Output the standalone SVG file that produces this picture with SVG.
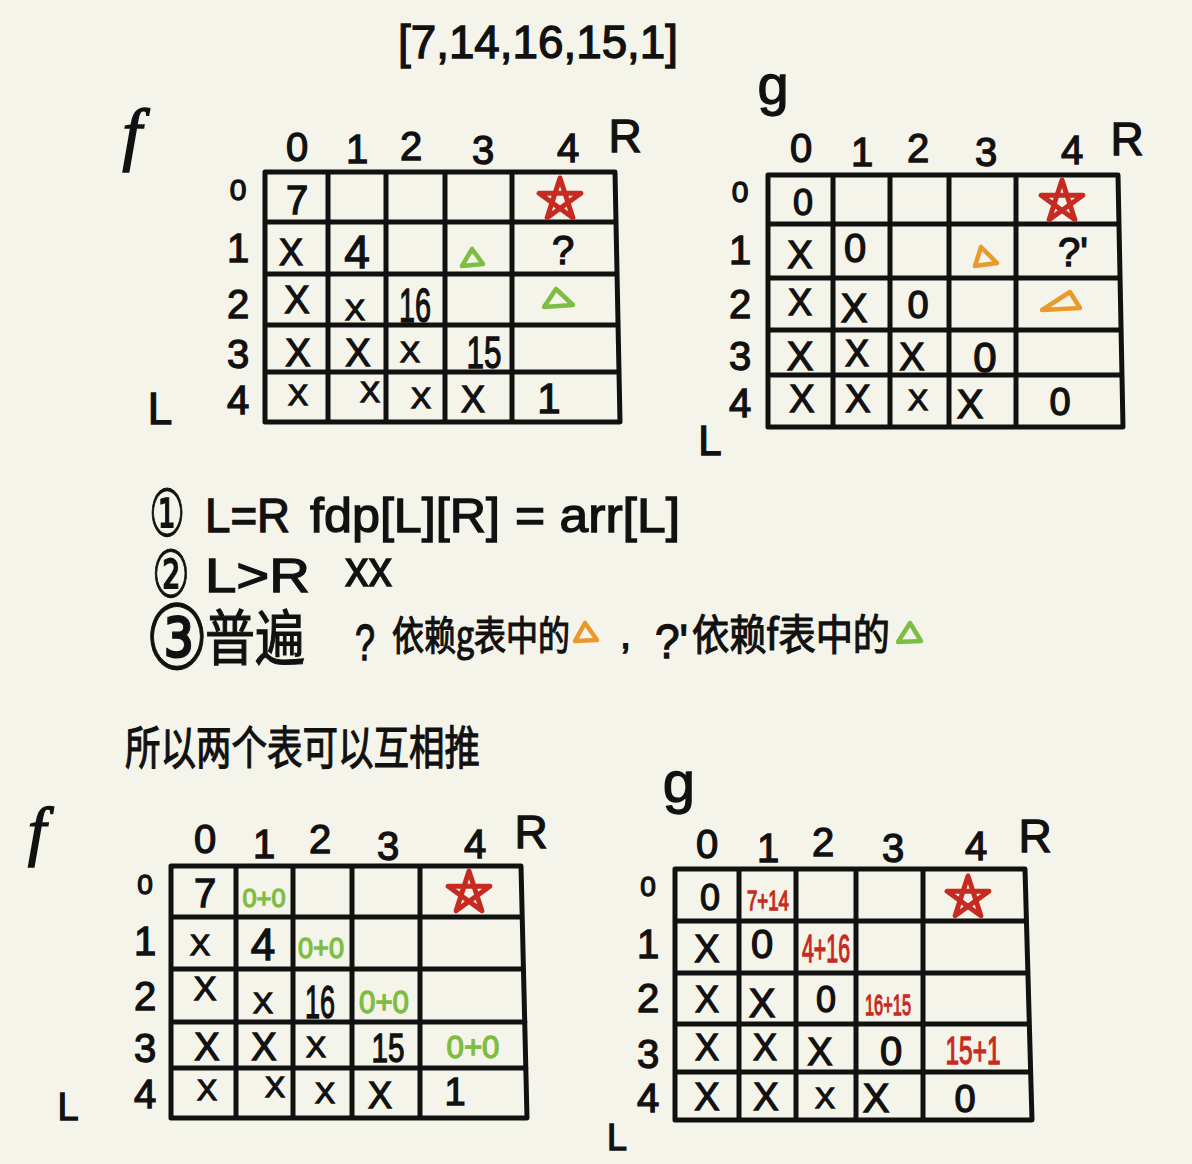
<svg xmlns="http://www.w3.org/2000/svg" xmlns:xlink="http://www.w3.org/1999/xlink" width="1192" height="1164" viewBox="0 0 1192 1164">
<style>
.k{font-family:"Liberation Sans",Arial,sans-serif;fill:#111;stroke:#111;stroke-width:1.3px;text-anchor:middle}
.s{text-anchor:start}
.c{font-family:"Noto Sans CJK SC","Noto Sans",sans-serif;fill:#111;stroke:#111;stroke-width:1.2px}
.cd{font-family:"DejaVu Sans","Noto Sans CJK SC",sans-serif;fill:#111;stroke:#111;stroke-width:1px;text-anchor:middle}
.fi{font-family:"Liberation Serif",serif;font-style:italic;fill:#111;stroke:#111;stroke-width:1.5px;text-anchor:middle}
.grid{fill:none;stroke:#111;stroke-width:5;stroke-linecap:round;stroke-linejoin:round}
.star{fill:none;stroke:#c62a20;stroke-width:5;stroke-linejoin:round}
.tg{fill:none;stroke:#7dbd44;stroke-width:4.5;stroke-linejoin:round}
.to{fill:none;stroke:#e99a2c;stroke-width:4.5;stroke-linejoin:round}
.gr{fill:#7dbd44;stroke:#7dbd44}
.rd{fill:#c62a20;stroke:#c62a20}
</style>
<defs>
<polygon id="star" class="star" points="0,-22 12.9,17.8 -20.9,-6.8 20.9,-6.8 -12.9,17.8"/>
</defs>
<rect width="1192" height="1164" fill="#f5f4ea"/>

<text class="k s" x="398" y="58" font-size="46" textLength="280" lengthAdjust="spacingAndGlyphs">[7,14,16,15,1]</text>

<!-- Table f (top) -->
<g id="table-f-top">
<text class="fi" x="132" y="157" font-size="70">f</text>
<path class="grid" d="M265,172 L615,172 L620,422 L265,422 Z M328,172 V422 M386,172 V422 M445,172 V422 M512,172 V422 M265,222 H616 M265,274 H617 M265,325 H618 M265,372 H619"/>
<g class="k" font-size="40">
<text x="297" y="161">0</text><text x="357" y="163">1</text><text x="411" y="160">2</text><text x="483" y="164">3</text><text x="568" y="162">4</text>
<text x="625" y="152" font-size="46">R</text>
<text x="238" y="200" font-size="30">0</text><text x="238" y="262">1</text><text x="238" y="318">2</text><text x="238" y="368">3</text><text x="238" y="414">4</text>
<text x="160" y="424" font-size="44">L</text>
<text x="297" y="214">7</text>
<text x="291" y="265" font-size="36">X</text><text x="357" y="268" font-size="46">4</text><text x="563" y="264">?</text>
<text x="297" y="313" font-size="38">X</text><text x="355" y="320" font-size="30">X</text><text x="415" y="322" font-size="48" textLength="32" lengthAdjust="spacingAndGlyphs">16</text>
<text x="298" y="366" font-size="38">X</text><text x="358" y="366" font-size="38">X</text><text x="410" y="362" font-size="30">X</text><text x="484" y="368" font-size="44" textLength="35" lengthAdjust="spacingAndGlyphs">15</text>
<text x="298" y="405" font-size="30">X</text><text x="370" y="402" font-size="30">X</text><text x="421" y="408" font-size="30">X</text><text x="473" y="412" font-size="36">X</text><text x="549" y="413" font-size="42">1</text>
</g>
<use href="#star" x="560" y="200"/>
<polygon class="tg" points="472,249 462,266 483,264"/>
<polygon class="tg" points="556,289 544,307 573,305"/>
</g>

<!-- Table g (top) -->
<g id="table-g-top">
<text class="k" x="773" y="104" font-size="56">g</text>
<path class="grid" d="M768,175 L1118,175 L1123,427 L768,427 Z M833,175 V427 M890,175 V427 M949,175 V427 M1016,175 V427 M768,224 H1119 M768,278 H1120 M768,330 H1121 M768,375 H1122"/>
<g class="k" font-size="40">
<text x="801" y="162">0</text><text x="862" y="166">1</text><text x="918" y="162">2</text><text x="986" y="166">3</text><text x="1072" y="164">4</text>
<text x="1127" y="155" font-size="46">R</text>
<text x="740" y="202" font-size="30">0</text><text x="740" y="264">1</text><text x="740" y="318">2</text><text x="740" y="370">3</text><text x="740" y="417">4</text>
<text x="710" y="455" font-size="42">L</text>
<text x="803" y="215" font-size="36">0</text>
<text x="800" y="268" font-size="38">X</text><text x="855" y="262">0</text><text x="1073" y="266">?'</text>
<text x="800" y="315" font-size="36">X</text><text x="854" y="322" font-size="40">X</text><text x="918" y="318" font-size="38">0</text>
<text x="800" y="370" font-size="40">X</text><text x="857" y="366" font-size="36">X</text><text x="912" y="370" font-size="38">X</text><text x="985" y="372" font-size="42">0</text>
<text x="802" y="412" font-size="38">X</text><text x="858" y="412" font-size="38">X</text><text x="918" y="410" font-size="30">X</text><text x="970" y="418" font-size="40">X</text><text x="1060" y="415" font-size="38">0</text>
</g>
<use href="#star" x="1062" y="202"/>
<polygon class="to" points="981,247 975,266 997,263"/>
<polygon class="to" points="1070,292 1042,310 1080,308"/>
</g>

<!-- Notes -->
<g id="notes">
<text class="cd" font-size="62" transform="translate(167,514) scale(0.65,1.05)" x="0" y="21">①</text>
<text class="k s" x="205" y="532" font-size="48" textLength="85" lengthAdjust="spacingAndGlyphs">L=R</text>
<text class="k s" x="310" y="532" font-size="48" textLength="190" lengthAdjust="spacingAndGlyphs">fdp[L][R]</text>
<text class="k s" x="515" y="532" font-size="48" textLength="165" lengthAdjust="spacingAndGlyphs">= arr[L]</text>

<text class="cd" font-size="62" transform="translate(171,575) scale(0.68,1.05)" x="0" y="21">②</text>
<text class="k s" x="205" y="592" font-size="48" textLength="105" lengthAdjust="spacingAndGlyphs">L&gt;R</text>
<text class="k s" x="345" y="586" font-size="52" textLength="47" lengthAdjust="spacingAndGlyphs">xx</text>

<text class="cd" font-size="78" transform="translate(177,638) scale(0.9,1.15)" x="0" y="27">③</text>
<text class="c" x="205" y="660" font-size="60" textLength="100" lengthAdjust="spacingAndGlyphs">普遍</text>
<text class="k s" x="355" y="660" font-size="50" textLength="20" lengthAdjust="spacingAndGlyphs">?</text>
<text class="c" x="392" y="650" font-size="40" textLength="178" lengthAdjust="spacingAndGlyphs">依赖g表中的</text>
<polygon class="to" points="585,623 575,641 597,640"/>
<text class="k s" x="620" y="648" font-size="40">,</text>
<text class="k s" x="655" y="658" font-size="48" textLength="33" lengthAdjust="spacingAndGlyphs">?'</text>
<text class="c" x="692" y="650" font-size="42" textLength="198" lengthAdjust="spacingAndGlyphs">依赖f表中的</text>
<polygon class="tg" points="910,623 898,642 921,641"/>

<text class="c" x="125" y="764" font-size="46" textLength="355" lengthAdjust="spacingAndGlyphs">所以两个表可以互相推</text>
</g>

<!-- Table f (bottom) -->
<g id="table-f-bottom">
<text class="fi" x="37" y="853" font-size="66">f</text>
<path class="grid" d="M171,866 L521,866 L527,1118 L171,1118 Z M236,866 V1118 M293,866 V1118 M352,866 V1118 M420,866 V1118 M171,917 H522 M171,969 H523.5 M171,1022 H525 M171,1068 H526"/>
<g class="k" font-size="40">
<text x="205" y="853">0</text><text x="264" y="858">1</text><text x="320" y="853">2</text><text x="388" y="860">3</text><text x="475" y="858">4</text>
<text x="531" y="848" font-size="46">R</text>
<text x="145" y="894" font-size="28">0</text><text x="145" y="955">1</text><text x="145" y="1010">2</text><text x="145" y="1062">3</text><text x="145" y="1108">4</text>
<text x="68" y="1120" font-size="38">L</text>
<text x="205" y="907">7</text>
<text x="200" y="955" font-size="30">X</text><text x="263" y="960" font-size="44">4</text>
<text x="205" y="1000" font-size="34">X</text><text x="263" y="1013" font-size="30">X</text><text x="320" y="1018" font-size="46" textLength="30" lengthAdjust="spacingAndGlyphs">16</text>
<text x="207" y="1060" font-size="38">X</text><text x="264" y="1060" font-size="38">X</text><text x="316" y="1057" font-size="30">X</text><text x="388" y="1062" font-size="40" textLength="33" lengthAdjust="spacingAndGlyphs">15</text>
<text x="207" y="1100" font-size="30">X</text><text x="275" y="1097" font-size="30">X</text><text x="325" y="1103" font-size="30">X</text><text x="380" y="1108" font-size="36">X</text><text x="455" y="1105" font-size="38">1</text>
</g>
<g class="k gr">
<text x="264" y="907" font-size="26" textLength="43" lengthAdjust="spacingAndGlyphs">0+0</text>
<text x="321" y="958" font-size="30" textLength="46" lengthAdjust="spacingAndGlyphs">0+0</text>
<text x="384" y="1013" font-size="32" textLength="50" lengthAdjust="spacingAndGlyphs">0+0</text>
<text x="473" y="1058" font-size="32" textLength="53" lengthAdjust="spacingAndGlyphs">0+0</text>
</g>
<use href="#star" x="469" y="893"/>
</g>

<!-- Table g (bottom) -->
<g id="table-g-bottom">
<text class="k" x="679" y="802" font-size="58">g</text>
<path class="grid" d="M675,869 L1025,869 L1032,1120 L675,1120 Z M739,869 V1120 M796,869 V1120 M856,869 V1120 M923,869 V1120 M675,921 H1026.5 M675,973 H1028 M675,1024 H1029 M675,1072 H1030.7"/>
<g class="k" font-size="40">
<text x="707" y="858">0</text><text x="768" y="862">1</text><text x="823" y="856">2</text><text x="893" y="862">3</text><text x="976" y="860">4</text>
<text x="1035" y="852" font-size="46">R</text>
<text x="648" y="896" font-size="28">0</text><text x="648" y="958">1</text><text x="648" y="1012">2</text><text x="648" y="1068">3</text><text x="648" y="1112">4</text>
<text x="617" y="1150" font-size="36">L</text>
<text x="710" y="910" font-size="36">0</text>
<text x="707" y="962" font-size="38">X</text><text x="762" y="958">0</text>
<text x="707" y="1012" font-size="36">X</text><text x="762" y="1017" font-size="40">X</text><text x="826" y="1012" font-size="36">0</text>
<text x="707" y="1060" font-size="36">X</text><text x="765" y="1060" font-size="36">X</text><text x="820" y="1065" font-size="38">X</text><text x="891" y="1065" font-size="40">0</text>
<text x="707" y="1110" font-size="38">X</text><text x="766" y="1110" font-size="38">X</text><text x="825" y="1108" font-size="30">X</text><text x="876" y="1112" font-size="40">X</text><text x="965" y="1112" font-size="38">0</text>
</g>
<g class="k rd">
<text x="768" y="910" font-size="28" textLength="42" lengthAdjust="spacingAndGlyphs">7+14</text>
<text x="826" y="962" font-size="38" textLength="48" lengthAdjust="spacingAndGlyphs">4+16</text>
<text x="888" y="1015" font-size="30" textLength="46" lengthAdjust="spacingAndGlyphs">16+15</text>
<text x="973" y="1064" font-size="38" textLength="55" lengthAdjust="spacingAndGlyphs">15+1</text>
</g>
<use href="#star" x="968" y="898"/>
</g>
</svg>
